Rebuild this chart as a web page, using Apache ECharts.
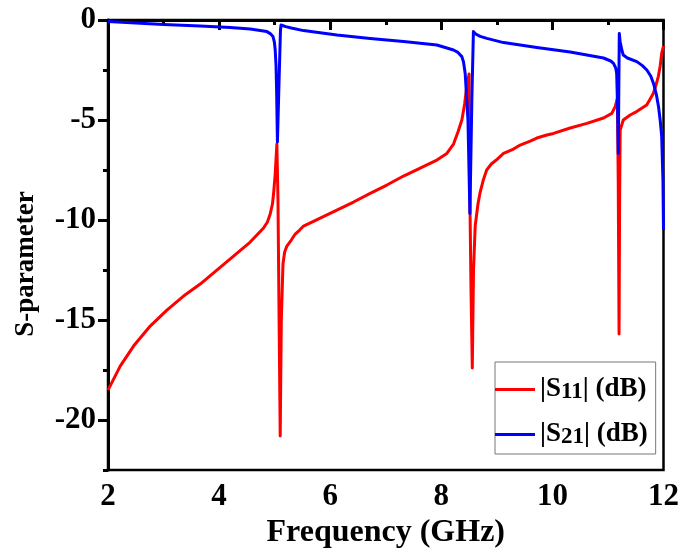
<!DOCTYPE html>
<html>
<head>
<meta charset="utf-8">
<script src="https://cdn.jsdelivr.net/npm/echarts@6/dist/echarts.min.js"></script>
<style>
html,body{margin:0;padding:0;background:#fff;}
#chart{width:682px;height:554px;}
</style>
</head>
<body>
<div id="chart"></div>
<script>
// ---- data ----
const s11Freq = [2.00,2.22,2.46,2.76,3.06,3.36,3.66,3.96,4.26,4.56,4.80,4.87,4.92,4.96,4.98,5.01,5.04,5.06,5.08,5.10,5.12,5.15,5.18,5.22,5.30,5.37,5.45,5.52,5.82,6.12,6.42,6.72,7.02,7.32,7.62,7.92,8.10,8.22,8.30,8.37,8.42,8.46,8.50,8.515,8.535,8.558,8.58,8.61,8.66,8.70,8.756,8.817,8.90,8.99,9.12,9.30,9.42,9.60,9.72,9.90,10.02,10.32,10.62,10.92,11.07,11.13,11.17,11.185,11.20,11.21,11.22,11.276,11.40,11.517,11.697,11.76,11.816,11.86,11.906,11.94,11.967,12.00];
const s11Val  = [-18.5,-17.3,-16.3,-15.3,-14.5,-13.8,-13.2,-12.5,-11.8,-11.1,-10.4,-10.1,-9.7,-9.2,-8.7,-7.7,-6.2,-9.0,-15.0,-20.8,-15.0,-12.2,-11.6,-11.3,-11.0,-10.7,-10.5,-10.3,-9.9,-9.5,-9.1,-8.67,-8.25,-7.8,-7.4,-7.0,-6.67,-6.2,-5.6,-5.0,-4.2,-3.3,-2.7,-9.0,-13.5,-17.4,-12.5,-10.3,-9.2,-8.6,-8.0,-7.5,-7.2,-7.0,-6.67,-6.45,-6.25,-6.05,-5.9,-5.75,-5.67,-5.4,-5.17,-4.9,-4.67,-4.33,-3.9,-8.0,-15.7,-9.0,-5.5,-5.0,-4.75,-4.58,-4.25,-3.95,-3.67,-3.3,-2.83,-2.3,-1.67,-1.3];
const s21Freq = [2.00,2.50,3.00,3.66,4.20,4.56,4.86,4.92,4.97,4.995,5.01,5.025,5.035,5.05,5.08,5.105,5.115,5.15,5.20,5.30,5.52,6.12,6.72,7.32,7.92,8.22,8.30,8.37,8.40,8.43,8.48,8.515,8.55,8.578,8.62,8.70,8.82,9.12,9.72,10.32,10.92,11.05,11.10,11.14,11.157,11.175,11.186,11.197,11.204,11.22,11.25,11.276,11.35,11.52,11.62,11.70,11.77,11.82,11.87,11.91,11.94,11.967,11.99,12.00];
const s21Val  = [-0.08,-0.15,-0.22,-0.3,-0.38,-0.45,-0.58,-0.68,-0.83,-1.1,-1.5,-2.3,-3.5,-6.1,-3.0,-0.5,-0.25,-0.28,-0.33,-0.4,-0.53,-0.75,-0.92,-1.08,-1.25,-1.5,-1.62,-1.83,-2.1,-2.67,-5.0,-9.67,-4.0,-0.58,-0.7,-0.82,-0.92,-1.13,-1.37,-1.6,-1.9,-2.05,-2.17,-2.4,-2.67,-4.5,-6.67,-3.0,-0.67,-1.1,-1.5,-1.75,-1.9,-2.08,-2.28,-2.5,-2.8,-3.17,-3.7,-4.33,-5.0,-5.8,-8.0,-10.5];
const yTickLabels = [0,-5,-10,-15,-20];
const seriesNames = ['S11','S21'];

const FONT = '"Liberation Serif","Times New Roman",serif';
const pairs = (fs, vs) => fs.map((f,i)=>[f, vs[i]]);

const chart = echarts.init(document.getElementById('chart'), null, {renderer:'canvas'});
chart.setOption({
  backgroundColor:'#ffffff',
  animation:false,
  grid:{left:108, right:18.5, top:20, bottom:83, show:true, borderColor:'#000', borderWidth:2.5, backgroundColor:'transparent'},
  legend:{
    orient:'vertical', left:495, top:362,
    padding:[13,8,5,0], itemGap:16,
    borderColor:'#777', borderWidth:1, backgroundColor:'#fff',
    icon:'rect', itemWidth:40, itemHeight:3,
    formatter: n => '{m||S}{s|' + n.slice(1) + '}{m|| (dB)}',
    textStyle:{
      rich:{
        m:{fontFamily:FONT, fontWeight:'bold', fontSize:27, lineHeight:32, color:'#000'},
        s:{fontFamily:FONT, fontWeight:'bold', fontSize:23, lineHeight:26, padding:[6,0,0,0], color:'#000'}
      }
    },
    data:seriesNames
  },
  xAxis:{
    type:'value', min:2, max:12, interval:2,
    name:'Frequency (GHz)', nameLocation:'middle', nameGap:42,
    nameTextStyle:{fontFamily:FONT, fontWeight:'bold', fontSize:32, color:'#000'},
    axisLine:{lineStyle:{color:'#000', width:3}},
    axisTick:{show:true, inside:false, length:10, lineStyle:{color:'#000', width:3}},
    minorTick:{show:true, splitNumber:2, length:5, lineStyle:{color:'#000', width:3}},
    axisLabel:{fontFamily:FONT, fontWeight:'bold', fontSize:31, color:'#000', margin:11},
    splitLine:{show:false}
  },
  yAxis:[{
    type:'value', min:-22.5, max:0,
    name:'S-parameter', nameLocation:'middle', nameGap:68,
    nameTextStyle:{fontFamily:FONT, fontWeight:'bold', fontSize:27, color:'#000', padding:[0,38,0,0]},
    axisLine:{lineStyle:{color:'#000', width:3}},
    axisTick:{show:true, length:10, customValues:yTickLabels, lineStyle:{color:'#000', width:3}},
    axisLabel:{fontFamily:FONT, fontWeight:'bold', fontSize:31, color:'#000', margin:12, customValues:yTickLabels},
    splitLine:{show:false}
  },{
    type:'value', min:-22.5, max:0, interval:2.5, position:'left',
    axisLine:{show:false},
    axisTick:{show:true, length:5, lineStyle:{color:'#000', width:3}},
    axisLabel:{show:false},
    splitLine:{show:false}
  }],
  series:[
    {name:'S11', type:'line', yAxisIndex:0, data:pairs(s11Freq,s11Val), showSymbol:false, symbol:'none',
     lineStyle:{color:'#ff0000', width:3, join:'round'}, itemStyle:{color:'#ff0000'}, z:2},
    {name:'S21', type:'line', yAxisIndex:0, data:pairs(s21Freq,s21Val), showSymbol:false, symbol:'none',
     lineStyle:{color:'#0000ff', width:3, join:'round'}, itemStyle:{color:'#0000ff'}, z:3}
  ]
});
</script>
</body>
</html>
